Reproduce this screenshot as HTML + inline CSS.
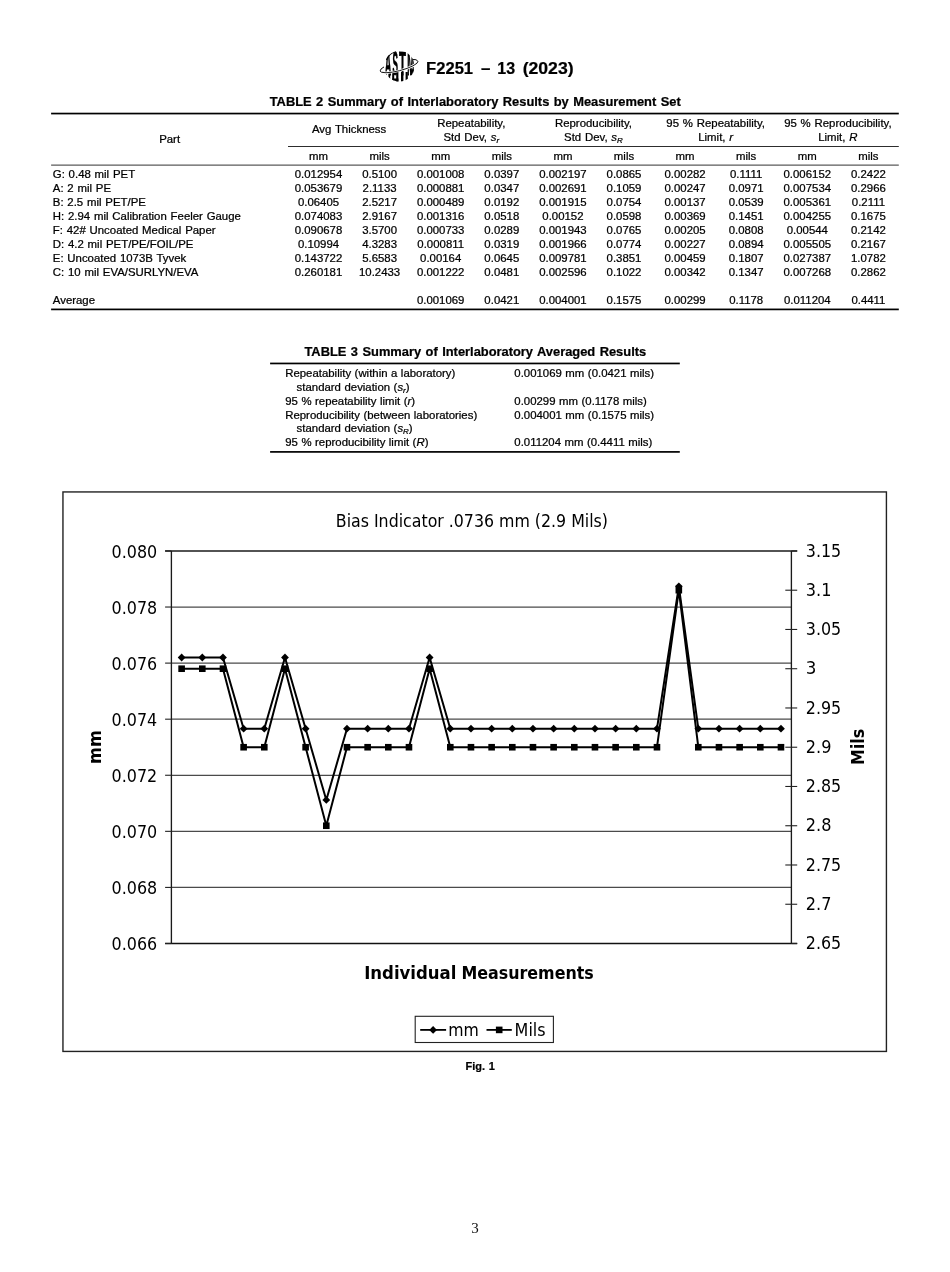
<!DOCTYPE html>
<html lang="en"><head><meta charset="utf-8"><title>F2251 - 13 (2023)</title>
<style>
html,body{margin:0;padding:0;background:#fff;}
body{width:950px;height:1272px;position:relative;overflow:hidden;}
svg#page{position:absolute;left:0;top:0;display:block;font-family:"Liberation Sans",sans-serif;fill:#000;}
#table2 text,#table3 text,#header text,#cap text{stroke:#000;stroke-width:0.22px;}
</style></head><body>
<svg id="page" width="950" height="1272" viewBox="0 0 950 1272">
<g id="chart">
<rect x="62.95" y="491.94" width="823.47" height="559.49" fill="#fff" stroke="#222" stroke-width="1.4"/>
<line x1="171.4" y1="607.03" x2="791.4" y2="607.03" stroke="#4a4a4a" stroke-width="1.25"/>
<line x1="171.4" y1="663.11" x2="791.4" y2="663.11" stroke="#4a4a4a" stroke-width="1.25"/>
<line x1="171.4" y1="719.19" x2="791.4" y2="719.19" stroke="#4a4a4a" stroke-width="1.25"/>
<line x1="171.4" y1="775.26" x2="791.4" y2="775.26" stroke="#4a4a4a" stroke-width="1.25"/>
<line x1="171.4" y1="831.34" x2="791.4" y2="831.34" stroke="#4a4a4a" stroke-width="1.25"/>
<line x1="171.4" y1="887.42" x2="791.4" y2="887.42" stroke="#4a4a4a" stroke-width="1.25"/>
<line x1="165.1" y1="550.95" x2="797.1999999999999" y2="550.95" stroke="#1a1a1a" stroke-width="1.4"/>
<line x1="165.1" y1="943.5" x2="797.1999999999999" y2="943.5" stroke="#111" stroke-width="1.4"/>
<line x1="171.4" y1="550.95" x2="171.4" y2="943.5" stroke="#1a1a1a" stroke-width="1.35"/>
<line x1="791.4" y1="550.95" x2="791.4" y2="943.5" stroke="#1a1a1a" stroke-width="1.35"/>
<line x1="165.1" y1="550.95" x2="171.4" y2="550.95" stroke="#222" stroke-width="1.1"/>
<text x="111.6" y="558" font-size="17" textLength="45.6" lengthAdjust="spacingAndGlyphs" style="font-family:'DejaVu Sans Condensed','DejaVu Sans',sans-serif">0.080</text>
<line x1="165.1" y1="607.03" x2="171.4" y2="607.03" stroke="#222" stroke-width="1.1"/>
<text x="111.6" y="614" font-size="17" textLength="45.6" lengthAdjust="spacingAndGlyphs" style="font-family:'DejaVu Sans Condensed','DejaVu Sans',sans-serif">0.078</text>
<line x1="165.1" y1="663.11" x2="171.4" y2="663.11" stroke="#222" stroke-width="1.1"/>
<text x="111.6" y="670" font-size="17" textLength="45.6" lengthAdjust="spacingAndGlyphs" style="font-family:'DejaVu Sans Condensed','DejaVu Sans',sans-serif">0.076</text>
<line x1="165.1" y1="719.19" x2="171.4" y2="719.19" stroke="#222" stroke-width="1.1"/>
<text x="111.6" y="726" font-size="17" textLength="45.6" lengthAdjust="spacingAndGlyphs" style="font-family:'DejaVu Sans Condensed','DejaVu Sans',sans-serif">0.074</text>
<line x1="165.1" y1="775.26" x2="171.4" y2="775.26" stroke="#222" stroke-width="1.1"/>
<text x="111.6" y="782" font-size="17" textLength="45.6" lengthAdjust="spacingAndGlyphs" style="font-family:'DejaVu Sans Condensed','DejaVu Sans',sans-serif">0.072</text>
<line x1="165.1" y1="831.34" x2="171.4" y2="831.34" stroke="#222" stroke-width="1.1"/>
<text x="111.6" y="838" font-size="17" textLength="45.6" lengthAdjust="spacingAndGlyphs" style="font-family:'DejaVu Sans Condensed','DejaVu Sans',sans-serif">0.070</text>
<line x1="165.1" y1="887.42" x2="171.4" y2="887.42" stroke="#222" stroke-width="1.1"/>
<text x="111.6" y="894" font-size="17" textLength="45.6" lengthAdjust="spacingAndGlyphs" style="font-family:'DejaVu Sans Condensed','DejaVu Sans',sans-serif">0.068</text>
<line x1="165.1" y1="943.50" x2="171.4" y2="943.50" stroke="#222" stroke-width="1.1"/>
<text x="111.6" y="950" font-size="17" textLength="45.6" lengthAdjust="spacingAndGlyphs" style="font-family:'DejaVu Sans Condensed','DejaVu Sans',sans-serif">0.066</text>
<line x1="791.4" y1="550.95" x2="797.1999999999999" y2="550.95" stroke="#222" stroke-width="1.1"/>
<text x="805.8" y="557" font-size="17" textLength="35.4" lengthAdjust="spacingAndGlyphs" style="font-family:'DejaVu Sans Condensed','DejaVu Sans',sans-serif">3.15</text>
<line x1="785.3" y1="590.21" x2="797.1999999999999" y2="590.21" stroke="#222" stroke-width="1.1"/>
<text x="805.8" y="596" font-size="17" textLength="25.6" lengthAdjust="spacingAndGlyphs" style="font-family:'DejaVu Sans Condensed','DejaVu Sans',sans-serif">3.1</text>
<line x1="785.3" y1="629.46" x2="797.1999999999999" y2="629.46" stroke="#222" stroke-width="1.1"/>
<text x="805.8" y="635" font-size="17" textLength="35.4" lengthAdjust="spacingAndGlyphs" style="font-family:'DejaVu Sans Condensed','DejaVu Sans',sans-serif">3.05</text>
<line x1="785.3" y1="668.72" x2="797.1999999999999" y2="668.72" stroke="#222" stroke-width="1.1"/>
<text x="805.8" y="674" font-size="17" textLength="10.6" lengthAdjust="spacingAndGlyphs" style="font-family:'DejaVu Sans Condensed','DejaVu Sans',sans-serif">3</text>
<line x1="785.3" y1="707.97" x2="797.1999999999999" y2="707.97" stroke="#222" stroke-width="1.1"/>
<text x="805.8" y="714" font-size="17" textLength="35.4" lengthAdjust="spacingAndGlyphs" style="font-family:'DejaVu Sans Condensed','DejaVu Sans',sans-serif">2.95</text>
<line x1="785.3" y1="747.23" x2="797.1999999999999" y2="747.23" stroke="#222" stroke-width="1.1"/>
<text x="805.8" y="753" font-size="17" textLength="25.6" lengthAdjust="spacingAndGlyphs" style="font-family:'DejaVu Sans Condensed','DejaVu Sans',sans-serif">2.9</text>
<line x1="785.3" y1="786.48" x2="797.1999999999999" y2="786.48" stroke="#222" stroke-width="1.1"/>
<text x="805.8" y="792" font-size="17" textLength="35.4" lengthAdjust="spacingAndGlyphs" style="font-family:'DejaVu Sans Condensed','DejaVu Sans',sans-serif">2.85</text>
<line x1="785.3" y1="825.74" x2="797.1999999999999" y2="825.74" stroke="#222" stroke-width="1.1"/>
<text x="805.8" y="831" font-size="17" textLength="25.6" lengthAdjust="spacingAndGlyphs" style="font-family:'DejaVu Sans Condensed','DejaVu Sans',sans-serif">2.8</text>
<line x1="785.3" y1="864.99" x2="797.1999999999999" y2="864.99" stroke="#222" stroke-width="1.1"/>
<text x="805.8" y="871" font-size="17" textLength="35.4" lengthAdjust="spacingAndGlyphs" style="font-family:'DejaVu Sans Condensed','DejaVu Sans',sans-serif">2.75</text>
<line x1="785.3" y1="904.25" x2="797.1999999999999" y2="904.25" stroke="#222" stroke-width="1.1"/>
<text x="805.8" y="910" font-size="17" textLength="25.6" lengthAdjust="spacingAndGlyphs" style="font-family:'DejaVu Sans Condensed','DejaVu Sans',sans-serif">2.7</text>
<line x1="791.4" y1="943.50" x2="797.1999999999999" y2="943.50" stroke="#222" stroke-width="1.1"/>
<text x="805.8" y="949" font-size="17" textLength="35.4" lengthAdjust="spacingAndGlyphs" style="font-family:'DejaVu Sans Condensed','DejaVu Sans',sans-serif">2.65</text>
<polyline fill="none" stroke="#000" stroke-width="2" stroke-linejoin="round" points="181.63,657.50 202.30,657.50 222.97,657.50 243.63,728.72 264.30,728.72 284.97,657.50 305.63,728.72 326.30,799.94 346.97,728.72 367.63,728.72 388.30,728.72 408.97,728.72 429.63,657.50 450.30,728.72 470.97,728.72 491.63,728.72 512.30,728.72 532.97,728.72 553.63,728.72 574.30,728.72 594.97,728.72 615.63,728.72 636.30,728.72 656.97,728.72 678.83,586.28 698.30,728.72 718.97,728.72 739.63,728.72 760.30,728.72 780.97,728.72"/>
<polyline fill="none" stroke="#000" stroke-width="2" stroke-linejoin="round" points="181.63,668.71 202.30,668.71 222.97,668.71 243.63,747.23 264.30,747.23 284.97,668.71 305.63,747.23 326.30,825.74 346.97,747.23 367.63,747.23 388.30,747.23 408.97,747.23 429.63,668.71 450.30,747.23 470.97,747.23 491.63,747.23 512.30,747.23 532.97,747.23 553.63,747.23 574.30,747.23 594.97,747.23 615.63,747.23 636.30,747.23 656.97,747.23 678.83,590.20 698.30,747.23 718.97,747.23 739.63,747.23 760.30,747.23 780.97,747.23"/>
<path d="M177.73 657.50L181.63 653.60L185.53 657.50L181.63 661.40Z" fill="#000"/>
<path d="M198.40 657.50L202.30 653.60L206.20 657.50L202.30 661.40Z" fill="#000"/>
<path d="M219.07 657.50L222.97 653.60L226.87 657.50L222.97 661.40Z" fill="#000"/>
<path d="M239.73 728.72L243.63 724.82L247.53 728.72L243.63 732.62Z" fill="#000"/>
<path d="M260.40 728.72L264.30 724.82L268.20 728.72L264.30 732.62Z" fill="#000"/>
<path d="M281.07 657.50L284.97 653.60L288.87 657.50L284.97 661.40Z" fill="#000"/>
<path d="M301.73 728.72L305.63 724.82L309.53 728.72L305.63 732.62Z" fill="#000"/>
<path d="M322.40 799.94L326.30 796.04L330.20 799.94L326.30 803.84Z" fill="#000"/>
<path d="M343.07 728.72L346.97 724.82L350.87 728.72L346.97 732.62Z" fill="#000"/>
<path d="M363.73 728.72L367.63 724.82L371.53 728.72L367.63 732.62Z" fill="#000"/>
<path d="M384.40 728.72L388.30 724.82L392.20 728.72L388.30 732.62Z" fill="#000"/>
<path d="M405.07 728.72L408.97 724.82L412.87 728.72L408.97 732.62Z" fill="#000"/>
<path d="M425.73 657.50L429.63 653.60L433.53 657.50L429.63 661.40Z" fill="#000"/>
<path d="M446.40 728.72L450.30 724.82L454.20 728.72L450.30 732.62Z" fill="#000"/>
<path d="M467.07 728.72L470.97 724.82L474.87 728.72L470.97 732.62Z" fill="#000"/>
<path d="M487.73 728.72L491.63 724.82L495.53 728.72L491.63 732.62Z" fill="#000"/>
<path d="M508.40 728.72L512.30 724.82L516.20 728.72L512.30 732.62Z" fill="#000"/>
<path d="M529.07 728.72L532.97 724.82L536.87 728.72L532.97 732.62Z" fill="#000"/>
<path d="M549.73 728.72L553.63 724.82L557.53 728.72L553.63 732.62Z" fill="#000"/>
<path d="M570.40 728.72L574.30 724.82L578.20 728.72L574.30 732.62Z" fill="#000"/>
<path d="M591.07 728.72L594.97 724.82L598.87 728.72L594.97 732.62Z" fill="#000"/>
<path d="M611.73 728.72L615.63 724.82L619.53 728.72L615.63 732.62Z" fill="#000"/>
<path d="M632.40 728.72L636.30 724.82L640.20 728.72L636.30 732.62Z" fill="#000"/>
<path d="M653.07 728.72L656.97 724.82L660.87 728.72L656.97 732.62Z" fill="#000"/>
<path d="M674.93 586.28L678.83 582.38L682.73 586.28L678.83 590.18Z" fill="#000"/>
<path d="M694.40 728.72L698.30 724.82L702.20 728.72L698.30 732.62Z" fill="#000"/>
<path d="M715.07 728.72L718.97 724.82L722.87 728.72L718.97 732.62Z" fill="#000"/>
<path d="M735.73 728.72L739.63 724.82L743.53 728.72L739.63 732.62Z" fill="#000"/>
<path d="M756.40 728.72L760.30 724.82L764.20 728.72L760.30 732.62Z" fill="#000"/>
<path d="M777.07 728.72L780.97 724.82L784.87 728.72L780.97 732.62Z" fill="#000"/>
<rect x="178.33" y="665.41" width="6.6" height="6.6" fill="#000"/>
<rect x="199.00" y="665.41" width="6.6" height="6.6" fill="#000"/>
<rect x="219.67" y="665.41" width="6.6" height="6.6" fill="#000"/>
<rect x="240.33" y="743.93" width="6.6" height="6.6" fill="#000"/>
<rect x="261.00" y="743.93" width="6.6" height="6.6" fill="#000"/>
<rect x="281.67" y="665.41" width="6.6" height="6.6" fill="#000"/>
<rect x="302.33" y="743.93" width="6.6" height="6.6" fill="#000"/>
<rect x="323.00" y="822.44" width="6.6" height="6.6" fill="#000"/>
<rect x="343.67" y="743.93" width="6.6" height="6.6" fill="#000"/>
<rect x="364.33" y="743.93" width="6.6" height="6.6" fill="#000"/>
<rect x="385.00" y="743.93" width="6.6" height="6.6" fill="#000"/>
<rect x="405.67" y="743.93" width="6.6" height="6.6" fill="#000"/>
<rect x="426.33" y="665.41" width="6.6" height="6.6" fill="#000"/>
<rect x="447.00" y="743.93" width="6.6" height="6.6" fill="#000"/>
<rect x="467.67" y="743.93" width="6.6" height="6.6" fill="#000"/>
<rect x="488.33" y="743.93" width="6.6" height="6.6" fill="#000"/>
<rect x="509.00" y="743.93" width="6.6" height="6.6" fill="#000"/>
<rect x="529.67" y="743.93" width="6.6" height="6.6" fill="#000"/>
<rect x="550.33" y="743.93" width="6.6" height="6.6" fill="#000"/>
<rect x="571.00" y="743.93" width="6.6" height="6.6" fill="#000"/>
<rect x="591.67" y="743.93" width="6.6" height="6.6" fill="#000"/>
<rect x="612.33" y="743.93" width="6.6" height="6.6" fill="#000"/>
<rect x="633.00" y="743.93" width="6.6" height="6.6" fill="#000"/>
<rect x="653.67" y="743.93" width="6.6" height="6.6" fill="#000"/>
<rect x="675.53" y="586.90" width="6.6" height="6.6" fill="#000"/>
<rect x="695.00" y="743.93" width="6.6" height="6.6" fill="#000"/>
<rect x="715.67" y="743.93" width="6.6" height="6.6" fill="#000"/>
<rect x="736.33" y="743.93" width="6.6" height="6.6" fill="#000"/>
<rect x="757.00" y="743.93" width="6.6" height="6.6" fill="#000"/>
<rect x="777.67" y="743.93" width="6.6" height="6.6" fill="#000"/>
<text x="335.8" y="527" font-size="17.3" textLength="272.2" lengthAdjust="spacingAndGlyphs" style="font-family:'DejaVu Sans Condensed','DejaVu Sans',sans-serif">Bias Indicator .0736 mm (2.9 Mils)</text>
<text y="979" font-size="17.3" font-weight="bold" style="font-family:'DejaVu Sans Condensed','DejaVu Sans',sans-serif"><tspan x="364.2" textLength="92.2" lengthAdjust="spacingAndGlyphs">Individual</tspan> <tspan x="461.4" textLength="132.4" lengthAdjust="spacingAndGlyphs">Measurements</tspan></text>
<text transform="translate(100.5 763.9) rotate(-90)" font-size="18.5" font-weight="bold" textLength="33.8" lengthAdjust="spacingAndGlyphs" style="font-family:'DejaVu Sans Condensed','DejaVu Sans',sans-serif">mm</text>
<text transform="translate(863.5 764.9) rotate(-90)" font-size="18.5" font-weight="bold" textLength="36.2" lengthAdjust="spacingAndGlyphs" style="font-family:'DejaVu Sans Condensed','DejaVu Sans',sans-serif">Mils</text>
<rect x="415.2" y="1016.3" width="138.2" height="26.2" fill="#fff" stroke="#222" stroke-width="1.1"/>
<line x1="420.2" y1="1029.9" x2="446.1" y2="1029.9" stroke="#000" stroke-width="1.8"/>
<path d="M429.20 1029.90L433.10 1026.00L437.00 1029.90L433.10 1033.80Z" fill="#000"/>
<text x="448.3" y="1036" font-size="18" textLength="30.6" lengthAdjust="spacingAndGlyphs" style="font-family:'DejaVu Sans Condensed','DejaVu Sans',sans-serif">mm</text>
<line x1="486.5" y1="1029.9" x2="511.8" y2="1029.9" stroke="#000" stroke-width="1.8"/>
<rect x="495.90" y="1026.60" width="6.6" height="6.6" fill="#000"/>
<text x="514.6" y="1036" font-size="18" textLength="31" lengthAdjust="spacingAndGlyphs" style="font-family:'DejaVu Sans Condensed','DejaVu Sans',sans-serif">Mils</text>
</g>
<g id="logo">
<defs><clipPath id="globe"><circle cx="399.3" cy="66.2" r="15.3"/></clipPath></defs>
<ellipse cx="399" cy="66" rx="19.4" ry="4.6" transform="rotate(-14.7 399 66)" fill="none" stroke="#000" stroke-width="0.9"/>
<circle cx="399.3" cy="66.2" r="15.3" fill="#fff"/>
<g clip-path="url(#globe)">
<text transform="translate(385.00 75) scale(0.2563 1)" font-size="33.5" font-weight="bold" stroke="#000" stroke-width="0.6" vector-effect="non-scaling-stroke">A</text>
<text transform="translate(392.50 75) scale(0.2461 1)" font-size="33.5" font-weight="bold" stroke="#000" stroke-width="0.6" vector-effect="non-scaling-stroke">S</text>
<text transform="translate(399.00 75) scale(0.3420 1)" font-size="33.5" font-weight="bold" stroke="#000" stroke-width="0.6" vector-effect="non-scaling-stroke">T</text>
<text transform="translate(407.30 75) scale(0.2508 1)" font-size="33.5" font-weight="bold" stroke="#000" stroke-width="0.6" vector-effect="non-scaling-stroke">M</text>
<rect x="388.4" y="72" width="1.8" height="10"/>
<rect x="392.2" y="72" width="2.0" height="10"/>
<rect x="396.2" y="72" width="2.2" height="10"/>
<rect x="392.2" y="78.5" width="6.2" height="4"/>
<rect x="401.0" y="72" width="2.4" height="10"/>
<rect x="405.6" y="72" width="2.2" height="10"/>
<path d="M411.4 69 L414 69.5 L411.5 75.5 L410 74.5 Z"/>
<path d="M386.5 60 A15.3 15.3 0 0 1 396 51.3" fill="none" stroke="#000" stroke-width="1.2"/>
</g>
<path d="M379.9 70.9 A19.4 4.6 -14.7 0 0 418.1 61.1" fill="none" stroke="#fff" stroke-width="2.4"/>
<path d="M379.9 70.9 A19.4 4.6 -14.7 0 0 418.1 61.1" fill="none" stroke="#000" stroke-width="0.9"/>
</g>

<g id="header">
<text transform="translate(426.10 74.00) scale(0.9868 1)" font-size="16.8" font-weight="bold">F2251</text>
<text transform="translate(481.00 74.00) scale(1.0063 1)" font-size="16.8" font-weight="bold">–</text>
<text transform="translate(497.30 74.00) scale(0.9528 1)" font-size="16.8" font-weight="bold">13</text>
<text transform="translate(522.70 74.00) scale(1.0480 1)" font-size="16.8" font-weight="bold">(2023)</text>
</g>
<g id="table2">
<text transform="translate(475.20 106.00) scale(1.075 1)" font-size="12" text-anchor="middle" font-weight="bold" word-spacing="0.8">TABLE 2 Summary of Interlaboratory Results by Measurement Set</text>
<rect x="51.10" y="112.70" width="847.70" height="1.7" fill="#000"/>
<rect x="288.00" y="146.00" width="610.80" height="0.95" fill="#222"/>
<rect x="51.10" y="164.60" width="847.70" height="1.0" fill="#333"/>
<rect x="51.10" y="308.55" width="847.70" height="1.7" fill="#000"/>
<text transform="translate(169.60 143.00) scale(1.14 1)" font-size="10.0" text-anchor="middle" word-spacing="0.55">Part</text>
<text transform="translate(349.05 133.00) scale(1.14 1)" font-size="10.0" text-anchor="middle" word-spacing="0.55">Avg Thickness</text>
<text transform="translate(471.25 127.00) scale(1.14 1)" font-size="10.0" text-anchor="middle" word-spacing="0.55">Repeatability,</text>
<text transform="translate(471.25 141.00) scale(1.14 1)" font-size="10.0" text-anchor="middle" word-spacing="0.55">Std Dev, <tspan font-style="italic">s<tspan dy="2.0" font-size="7.0">r</tspan><tspan dy="-2.0">&#8203;</tspan></tspan></text>
<text transform="translate(593.45 127.00) scale(1.14 1)" font-size="10.0" text-anchor="middle" word-spacing="0.55">Reproducibility,</text>
<text transform="translate(593.45 141.00) scale(1.14 1)" font-size="10.0" text-anchor="middle" word-spacing="0.55">Std Dev, <tspan font-style="italic">s<tspan dy="2.0" font-size="7.0">R</tspan><tspan dy="-2.0">&#8203;</tspan></tspan></text>
<text transform="translate(715.65 127.00) scale(1.14 1)" font-size="10.0" text-anchor="middle" word-spacing="0.55">95 % Repeatability,</text>
<text transform="translate(715.65 141.00) scale(1.14 1)" font-size="10.0" text-anchor="middle" word-spacing="0.55">Limit, <tspan font-style="italic">r</tspan></text>
<text transform="translate(837.85 127.00) scale(1.14 1)" font-size="10.0" text-anchor="middle" word-spacing="0.55">95 % Reproducibility,</text>
<text transform="translate(837.85 141.00) scale(1.14 1)" font-size="10.0" text-anchor="middle" word-spacing="0.55">Limit, <tspan font-style="italic">R</tspan></text>
<text transform="translate(318.50 160.00) scale(1.14 1)" font-size="10.0" text-anchor="middle" word-spacing="0.55">mm</text>
<text transform="translate(379.60 160.00) scale(1.14 1)" font-size="10.0" text-anchor="middle" word-spacing="0.55">mils</text>
<text transform="translate(440.70 160.00) scale(1.14 1)" font-size="10.0" text-anchor="middle" word-spacing="0.55">mm</text>
<text transform="translate(501.80 160.00) scale(1.14 1)" font-size="10.0" text-anchor="middle" word-spacing="0.55">mils</text>
<text transform="translate(562.90 160.00) scale(1.14 1)" font-size="10.0" text-anchor="middle" word-spacing="0.55">mm</text>
<text transform="translate(624.00 160.00) scale(1.14 1)" font-size="10.0" text-anchor="middle" word-spacing="0.55">mils</text>
<text transform="translate(685.10 160.00) scale(1.14 1)" font-size="10.0" text-anchor="middle" word-spacing="0.55">mm</text>
<text transform="translate(746.20 160.00) scale(1.14 1)" font-size="10.0" text-anchor="middle" word-spacing="0.55">mils</text>
<text transform="translate(807.30 160.00) scale(1.14 1)" font-size="10.0" text-anchor="middle" word-spacing="0.55">mm</text>
<text transform="translate(868.40 160.00) scale(1.14 1)" font-size="10.0" text-anchor="middle" word-spacing="0.55">mils</text>
<text transform="translate(52.80 178.00) scale(1.14 1)" font-size="10.0" word-spacing="0.55">G: 0.48 mil PET</text>
<text transform="translate(318.50 178.00) scale(1.14 1)" font-size="10.0" text-anchor="middle" word-spacing="0.55">0.012954</text>
<text transform="translate(379.60 178.00) scale(1.14 1)" font-size="10.0" text-anchor="middle" word-spacing="0.55">0.5100</text>
<text transform="translate(440.70 178.00) scale(1.14 1)" font-size="10.0" text-anchor="middle" word-spacing="0.55">0.001008</text>
<text transform="translate(501.80 178.00) scale(1.14 1)" font-size="10.0" text-anchor="middle" word-spacing="0.55">0.0397</text>
<text transform="translate(562.90 178.00) scale(1.14 1)" font-size="10.0" text-anchor="middle" word-spacing="0.55">0.002197</text>
<text transform="translate(624.00 178.00) scale(1.14 1)" font-size="10.0" text-anchor="middle" word-spacing="0.55">0.0865</text>
<text transform="translate(685.10 178.00) scale(1.14 1)" font-size="10.0" text-anchor="middle" word-spacing="0.55">0.00282</text>
<text transform="translate(746.20 178.00) scale(1.14 1)" font-size="10.0" text-anchor="middle" word-spacing="0.55">0.1111</text>
<text transform="translate(807.30 178.00) scale(1.14 1)" font-size="10.0" text-anchor="middle" word-spacing="0.55">0.006152</text>
<text transform="translate(868.40 178.00) scale(1.14 1)" font-size="10.0" text-anchor="middle" word-spacing="0.55">0.2422</text>
<text transform="translate(52.80 192.00) scale(1.14 1)" font-size="10.0" word-spacing="0.55">A: 2 mil PE</text>
<text transform="translate(318.50 192.00) scale(1.14 1)" font-size="10.0" text-anchor="middle" word-spacing="0.55">0.053679</text>
<text transform="translate(379.60 192.00) scale(1.14 1)" font-size="10.0" text-anchor="middle" word-spacing="0.55">2.1133</text>
<text transform="translate(440.70 192.00) scale(1.14 1)" font-size="10.0" text-anchor="middle" word-spacing="0.55">0.000881</text>
<text transform="translate(501.80 192.00) scale(1.14 1)" font-size="10.0" text-anchor="middle" word-spacing="0.55">0.0347</text>
<text transform="translate(562.90 192.00) scale(1.14 1)" font-size="10.0" text-anchor="middle" word-spacing="0.55">0.002691</text>
<text transform="translate(624.00 192.00) scale(1.14 1)" font-size="10.0" text-anchor="middle" word-spacing="0.55">0.1059</text>
<text transform="translate(685.10 192.00) scale(1.14 1)" font-size="10.0" text-anchor="middle" word-spacing="0.55">0.00247</text>
<text transform="translate(746.20 192.00) scale(1.14 1)" font-size="10.0" text-anchor="middle" word-spacing="0.55">0.0971</text>
<text transform="translate(807.30 192.00) scale(1.14 1)" font-size="10.0" text-anchor="middle" word-spacing="0.55">0.007534</text>
<text transform="translate(868.40 192.00) scale(1.14 1)" font-size="10.0" text-anchor="middle" word-spacing="0.55">0.2966</text>
<text transform="translate(52.80 206.00) scale(1.14 1)" font-size="10.0" word-spacing="0.55">B: 2.5 mil PET/PE</text>
<text transform="translate(318.50 206.00) scale(1.14 1)" font-size="10.0" text-anchor="middle" word-spacing="0.55">0.06405</text>
<text transform="translate(379.60 206.00) scale(1.14 1)" font-size="10.0" text-anchor="middle" word-spacing="0.55">2.5217</text>
<text transform="translate(440.70 206.00) scale(1.14 1)" font-size="10.0" text-anchor="middle" word-spacing="0.55">0.000489</text>
<text transform="translate(501.80 206.00) scale(1.14 1)" font-size="10.0" text-anchor="middle" word-spacing="0.55">0.0192</text>
<text transform="translate(562.90 206.00) scale(1.14 1)" font-size="10.0" text-anchor="middle" word-spacing="0.55">0.001915</text>
<text transform="translate(624.00 206.00) scale(1.14 1)" font-size="10.0" text-anchor="middle" word-spacing="0.55">0.0754</text>
<text transform="translate(685.10 206.00) scale(1.14 1)" font-size="10.0" text-anchor="middle" word-spacing="0.55">0.00137</text>
<text transform="translate(746.20 206.00) scale(1.14 1)" font-size="10.0" text-anchor="middle" word-spacing="0.55">0.0539</text>
<text transform="translate(807.30 206.00) scale(1.14 1)" font-size="10.0" text-anchor="middle" word-spacing="0.55">0.005361</text>
<text transform="translate(868.40 206.00) scale(1.14 1)" font-size="10.0" text-anchor="middle" word-spacing="0.55">0.2111</text>
<text transform="translate(52.80 220.00) scale(1.14 1)" font-size="10.0" word-spacing="0.55">H: 2.94 mil Calibration Feeler Gauge</text>
<text transform="translate(318.50 220.00) scale(1.14 1)" font-size="10.0" text-anchor="middle" word-spacing="0.55">0.074083</text>
<text transform="translate(379.60 220.00) scale(1.14 1)" font-size="10.0" text-anchor="middle" word-spacing="0.55">2.9167</text>
<text transform="translate(440.70 220.00) scale(1.14 1)" font-size="10.0" text-anchor="middle" word-spacing="0.55">0.001316</text>
<text transform="translate(501.80 220.00) scale(1.14 1)" font-size="10.0" text-anchor="middle" word-spacing="0.55">0.0518</text>
<text transform="translate(562.90 220.00) scale(1.14 1)" font-size="10.0" text-anchor="middle" word-spacing="0.55">0.00152</text>
<text transform="translate(624.00 220.00) scale(1.14 1)" font-size="10.0" text-anchor="middle" word-spacing="0.55">0.0598</text>
<text transform="translate(685.10 220.00) scale(1.14 1)" font-size="10.0" text-anchor="middle" word-spacing="0.55">0.00369</text>
<text transform="translate(746.20 220.00) scale(1.14 1)" font-size="10.0" text-anchor="middle" word-spacing="0.55">0.1451</text>
<text transform="translate(807.30 220.00) scale(1.14 1)" font-size="10.0" text-anchor="middle" word-spacing="0.55">0.004255</text>
<text transform="translate(868.40 220.00) scale(1.14 1)" font-size="10.0" text-anchor="middle" word-spacing="0.55">0.1675</text>
<text transform="translate(52.80 234.00) scale(1.14 1)" font-size="10.0" word-spacing="0.55">F: 42# Uncoated Medical Paper</text>
<text transform="translate(318.50 234.00) scale(1.14 1)" font-size="10.0" text-anchor="middle" word-spacing="0.55">0.090678</text>
<text transform="translate(379.60 234.00) scale(1.14 1)" font-size="10.0" text-anchor="middle" word-spacing="0.55">3.5700</text>
<text transform="translate(440.70 234.00) scale(1.14 1)" font-size="10.0" text-anchor="middle" word-spacing="0.55">0.000733</text>
<text transform="translate(501.80 234.00) scale(1.14 1)" font-size="10.0" text-anchor="middle" word-spacing="0.55">0.0289</text>
<text transform="translate(562.90 234.00) scale(1.14 1)" font-size="10.0" text-anchor="middle" word-spacing="0.55">0.001943</text>
<text transform="translate(624.00 234.00) scale(1.14 1)" font-size="10.0" text-anchor="middle" word-spacing="0.55">0.0765</text>
<text transform="translate(685.10 234.00) scale(1.14 1)" font-size="10.0" text-anchor="middle" word-spacing="0.55">0.00205</text>
<text transform="translate(746.20 234.00) scale(1.14 1)" font-size="10.0" text-anchor="middle" word-spacing="0.55">0.0808</text>
<text transform="translate(807.30 234.00) scale(1.14 1)" font-size="10.0" text-anchor="middle" word-spacing="0.55">0.00544</text>
<text transform="translate(868.40 234.00) scale(1.14 1)" font-size="10.0" text-anchor="middle" word-spacing="0.55">0.2142</text>
<text transform="translate(52.80 248.00) scale(1.14 1)" font-size="10.0" word-spacing="0.55">D: 4.2 mil PET/PE/FOIL/PE</text>
<text transform="translate(318.50 248.00) scale(1.14 1)" font-size="10.0" text-anchor="middle" word-spacing="0.55">0.10994</text>
<text transform="translate(379.60 248.00) scale(1.14 1)" font-size="10.0" text-anchor="middle" word-spacing="0.55">4.3283</text>
<text transform="translate(440.70 248.00) scale(1.14 1)" font-size="10.0" text-anchor="middle" word-spacing="0.55">0.000811</text>
<text transform="translate(501.80 248.00) scale(1.14 1)" font-size="10.0" text-anchor="middle" word-spacing="0.55">0.0319</text>
<text transform="translate(562.90 248.00) scale(1.14 1)" font-size="10.0" text-anchor="middle" word-spacing="0.55">0.001966</text>
<text transform="translate(624.00 248.00) scale(1.14 1)" font-size="10.0" text-anchor="middle" word-spacing="0.55">0.0774</text>
<text transform="translate(685.10 248.00) scale(1.14 1)" font-size="10.0" text-anchor="middle" word-spacing="0.55">0.00227</text>
<text transform="translate(746.20 248.00) scale(1.14 1)" font-size="10.0" text-anchor="middle" word-spacing="0.55">0.0894</text>
<text transform="translate(807.30 248.00) scale(1.14 1)" font-size="10.0" text-anchor="middle" word-spacing="0.55">0.005505</text>
<text transform="translate(868.40 248.00) scale(1.14 1)" font-size="10.0" text-anchor="middle" word-spacing="0.55">0.2167</text>
<text transform="translate(52.80 262.00) scale(1.14 1)" font-size="10.0" word-spacing="0.55">E: Uncoated 1073B Tyvek</text>
<text transform="translate(318.50 262.00) scale(1.14 1)" font-size="10.0" text-anchor="middle" word-spacing="0.55">0.143722</text>
<text transform="translate(379.60 262.00) scale(1.14 1)" font-size="10.0" text-anchor="middle" word-spacing="0.55">5.6583</text>
<text transform="translate(440.70 262.00) scale(1.14 1)" font-size="10.0" text-anchor="middle" word-spacing="0.55">0.00164</text>
<text transform="translate(501.80 262.00) scale(1.14 1)" font-size="10.0" text-anchor="middle" word-spacing="0.55">0.0645</text>
<text transform="translate(562.90 262.00) scale(1.14 1)" font-size="10.0" text-anchor="middle" word-spacing="0.55">0.009781</text>
<text transform="translate(624.00 262.00) scale(1.14 1)" font-size="10.0" text-anchor="middle" word-spacing="0.55">0.3851</text>
<text transform="translate(685.10 262.00) scale(1.14 1)" font-size="10.0" text-anchor="middle" word-spacing="0.55">0.00459</text>
<text transform="translate(746.20 262.00) scale(1.14 1)" font-size="10.0" text-anchor="middle" word-spacing="0.55">0.1807</text>
<text transform="translate(807.30 262.00) scale(1.14 1)" font-size="10.0" text-anchor="middle" word-spacing="0.55">0.027387</text>
<text transform="translate(868.40 262.00) scale(1.14 1)" font-size="10.0" text-anchor="middle" word-spacing="0.55">1.0782</text>
<text transform="translate(52.80 276.00) scale(1.14 1)" font-size="10.0" word-spacing="0.55">C: 10 mil EVA/SURLYN/EVA</text>
<text transform="translate(318.50 276.00) scale(1.14 1)" font-size="10.0" text-anchor="middle" word-spacing="0.55">0.260181</text>
<text transform="translate(379.60 276.00) scale(1.14 1)" font-size="10.0" text-anchor="middle" word-spacing="0.55">10.2433</text>
<text transform="translate(440.70 276.00) scale(1.14 1)" font-size="10.0" text-anchor="middle" word-spacing="0.55">0.001222</text>
<text transform="translate(501.80 276.00) scale(1.14 1)" font-size="10.0" text-anchor="middle" word-spacing="0.55">0.0481</text>
<text transform="translate(562.90 276.00) scale(1.14 1)" font-size="10.0" text-anchor="middle" word-spacing="0.55">0.002596</text>
<text transform="translate(624.00 276.00) scale(1.14 1)" font-size="10.0" text-anchor="middle" word-spacing="0.55">0.1022</text>
<text transform="translate(685.10 276.00) scale(1.14 1)" font-size="10.0" text-anchor="middle" word-spacing="0.55">0.00342</text>
<text transform="translate(746.20 276.00) scale(1.14 1)" font-size="10.0" text-anchor="middle" word-spacing="0.55">0.1347</text>
<text transform="translate(807.30 276.00) scale(1.14 1)" font-size="10.0" text-anchor="middle" word-spacing="0.55">0.007268</text>
<text transform="translate(868.40 276.00) scale(1.14 1)" font-size="10.0" text-anchor="middle" word-spacing="0.55">0.2862</text>
<text transform="translate(52.80 304.00) scale(1.14 1)" font-size="10.0" word-spacing="0.55">Average</text>
<text transform="translate(440.70 304.00) scale(1.14 1)" font-size="10.0" text-anchor="middle" word-spacing="0.55">0.001069</text>
<text transform="translate(501.80 304.00) scale(1.14 1)" font-size="10.0" text-anchor="middle" word-spacing="0.55">0.0421</text>
<text transform="translate(562.90 304.00) scale(1.14 1)" font-size="10.0" text-anchor="middle" word-spacing="0.55">0.004001</text>
<text transform="translate(624.00 304.00) scale(1.14 1)" font-size="10.0" text-anchor="middle" word-spacing="0.55">0.1575</text>
<text transform="translate(685.10 304.00) scale(1.14 1)" font-size="10.0" text-anchor="middle" word-spacing="0.55">0.00299</text>
<text transform="translate(746.20 304.00) scale(1.14 1)" font-size="10.0" text-anchor="middle" word-spacing="0.55">0.1178</text>
<text transform="translate(807.30 304.00) scale(1.14 1)" font-size="10.0" text-anchor="middle" word-spacing="0.55">0.011204</text>
<text transform="translate(868.40 304.00) scale(1.14 1)" font-size="10.0" text-anchor="middle" word-spacing="0.55">0.4411</text>
</g>
<g id="table3">
<text transform="translate(475.30 356.00) scale(1.075 1)" font-size="12" text-anchor="middle" font-weight="bold" word-spacing="0.8">TABLE 3 Summary of Interlaboratory Averaged Results</text>
<rect x="270.10" y="362.61" width="409.70" height="1.7" fill="#000"/>
<rect x="270.10" y="451.05" width="409.70" height="1.7" fill="#000"/>
<text transform="translate(285.20 377.00) scale(1.14 1)" font-size="10.0" word-spacing="0.3">Repeatability (within a laboratory)</text>
<text transform="translate(514.30 377.00) scale(1.14 1)" font-size="10.0" word-spacing="0.3">0.001069 mm (0.0421 mils)</text>
<text transform="translate(296.60 391.00) scale(1.14 1)" font-size="10.0" word-spacing="0.3">standard deviation (<tspan font-style="italic">s<tspan dy="2.0" font-size="7.0">r</tspan><tspan dy="-2.0">&#8203;</tspan></tspan>)</text>
<text transform="translate(285.20 405.00) scale(1.14 1)" font-size="10.0" word-spacing="0.3">95 % repeatability limit (<tspan font-style="italic">r</tspan>)</text>
<text transform="translate(514.30 405.00) scale(1.14 1)" font-size="10.0" word-spacing="0.3">0.00299 mm (0.1178 mils)</text>
<text transform="translate(285.20 419.00) scale(1.14 1)" font-size="10.0" word-spacing="0.3">Reproducibility (between laboratories)</text>
<text transform="translate(514.30 419.00) scale(1.14 1)" font-size="10.0" word-spacing="0.3">0.004001 mm (0.1575 mils)</text>
<text transform="translate(296.60 432.00) scale(1.14 1)" font-size="10.0" word-spacing="0.3">standard deviation (<tspan font-style="italic">s<tspan dy="2.0" font-size="7.0">R</tspan><tspan dy="-2.0">&#8203;</tspan></tspan>)</text>
<text transform="translate(285.20 446.00) scale(1.14 1)" font-size="10.0" word-spacing="0.3">95 % reproducibility limit (<tspan font-style="italic">R</tspan>)</text>
<text transform="translate(514.30 446.00) scale(1.14 1)" font-size="10.0" word-spacing="0.3">0.011204 mm (0.4411 mils)</text>
</g>
<g id="cap">
<text transform="translate(480.20 1070.00) scale(1.02 1)" font-size="10.8" text-anchor="middle" font-weight="bold" word-spacing="0.8">Fig. 1</text>
</g>
<text x="474.9" y="1233" font-size="15" text-anchor="middle" fill="#111" style="font-family:'Liberation Serif',serif">3</text>
</svg>
</body></html>
